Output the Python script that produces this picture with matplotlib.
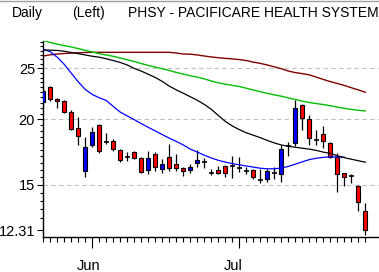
import matplotlib
matplotlib.use('Agg')
import matplotlib.pyplot as plt
import matplotlib.transforms as mtrans
from matplotlib.lines import Line2D
from matplotlib.ticker import FixedLocator, FixedFormatter, NullFormatter
import numpy as np

plt.rcParams['font.family'] = ['Liberation Sans', 'DejaVu Sans']

# ---- data ----
opens  = [21.60, 23.04, 21.90, 21.70, 20.68, 19.23, 15.98, 17.84, 19.48, 18.08,
          18.17, 17.45, 16.99, 17.31, 16.86, 16.02, 17.16, 16.07, 16.94, 16.45,
          16.14, 16.02, 16.54, 16.57, 15.83, 16.02, 16.30, 16.27, 16.16, 15.98,
          16.02, 15.33, 15.38, 15.83, 15.74, 17.79, 18.05, 21.29, 20.00, 18.27,
          18.73, 18.00, 16.98, 15.79, 15.62, 14.94, 13.39]
highs  = [23.14, 23.17, 21.95, 21.75, 20.87, 20.24, 18.49, 19.36, 19.57, 18.81,
          18.31, 17.54, 17.33, 17.37, 16.98, 17.41, 17.36, 16.79, 17.95, 17.18,
          16.21, 16.45, 17.49, 16.86, 16.07, 16.30, 16.40, 17.03, 16.98, 16.21,
          16.09, 16.06, 16.06, 16.20, 17.87, 18.13, 21.73, 21.39, 20.38, 19.08,
          19.42, 18.13, 17.22, 15.83, 15.73, 15.00, 13.87]
lows   = [20.92, 21.67, 21.01, 20.53, 19.08, 17.87, 15.50, 17.71, 17.28, 17.91,
          17.41, 16.60, 16.68, 16.77, 15.83, 15.72, 15.97, 15.83, 15.97, 15.97,
          15.63, 15.83, 16.25, 16.18, 15.67, 15.74, 15.56, 15.47, 15.85, 15.71,
          15.38, 15.13, 15.17, 15.43, 15.22, 17.05, 17.82, 19.08, 17.87, 17.83,
          17.60, 16.86, 14.57, 14.96, 15.13, 13.39, 12.06]
closes = [22.63, 21.81, 21.70, 20.68, 19.14, 18.59, 17.74, 18.90, 17.43, 18.08,
          17.54, 16.71, 16.99, 16.86, 15.90, 16.86, 16.21, 16.45, 16.14, 16.14,
          15.97, 16.21, 16.74, 16.57, 15.83, 15.83, 15.79, 16.27, 16.16, 15.98,
          15.52, 15.33, 15.95, 15.83, 17.54, 17.79, 20.98, 20.14, 18.40, 18.27,
          18.16, 16.98, 15.72, 15.52, 15.62, 13.94, 12.31]

ma_blue  = [27.17, 26.87, 26.23, 25.42, 24.46, 23.55, 22.78, 22.29, 21.97, 21.71,
            21.15, 20.63, 20.29, 19.96, 19.62, 19.30, 19.00, 18.70, 18.41, 18.15,
            17.87, 17.55, 17.32, 17.09, 16.88, 16.71, 16.58, 16.47, 16.38, 16.30,
            16.22, 16.14, 16.10, 16.10, 16.15, 16.27, 16.43, 16.60, 16.76, 16.86,
            16.93, 16.96, 16.96, 16.94]
ma_black = [27.08, 27.06, 27.03, 26.93, 26.79, 26.65, 26.50, 26.35, 26.24, 26.06,
            25.86, 25.64, 25.36, 24.98, 24.69, 24.35, 24.01, 23.60, 23.12, 22.74,
            22.41, 22.07, 21.73, 21.34, 20.89, 20.33, 19.81, 19.42, 19.11, 18.85,
            18.65, 18.45, 18.23, 18.03, 17.87, 17.77, 17.69, 17.62, 17.55, 17.45,
            17.32, 17.22, 17.05, 16.90, 16.79, 16.68, 16.57]
ma_green = [28.20, 27.99, 27.78, 27.61, 27.44, 27.25, 27.04, 26.85, 26.65, 26.50,
            26.34, 26.15, 25.95, 25.75, 25.52, 25.31, 25.12, 24.95, 24.76, 24.55,
            24.37, 24.19, 24.05, 23.86, 23.65, 23.45, 23.32, 23.20, 23.08, 22.91,
            22.73, 22.56, 22.40, 22.25, 22.12, 21.96, 21.81, 21.65, 21.52, 21.42,
            21.33, 21.22, 21.09, 20.98, 20.88, 20.80, 20.74]
ma_red   = [26.38, 26.52, 26.61, 26.67, 26.72, 26.75, 26.79, 26.81, 26.81, 26.81,
            26.81, 26.81, 26.81, 26.81, 26.81, 26.81, 26.81, 26.81, 26.81, 26.73,
            26.61, 26.59, 26.50, 26.38, 26.27, 26.18, 26.11, 26.05, 25.97, 25.86,
            25.68, 25.54, 25.36, 25.16, 24.95, 24.70, 24.53, 24.42, 24.29, 24.05,
            23.81, 23.58, 23.39, 23.19, 22.96, 22.74, 22.51]

month_labels = ['Jun', 'Jul']
month_index = [7, 28]
ytick_vals = [25, 20, 15, 12.31]
ytick_labels = ['25', '20', '15', '12.31']
grid_vals = [25, 20, 15]
title_parts = ['Daily', '(Left)', 'PHSY - PACIFICARE HEALTH SYSTEM']

# ---- figure ----
W, H = 379, 272
fig = plt.figure(figsize=(W / 100, H / 100), dpi=100)
ax_l, ax_r, ax_t, ax_b = 42.7, 379.0, 41.0, 236.7
ax = fig.add_axes([ax_l / W, 1 - ax_b / H, (ax_r - ax_l) / W, (ax_b - ax_t) / H])
ax.set_yscale('log')
ax.set_xlim(-0.09, 47.96)
ax.set_ylim(11.96, 28.17)

for g in grid_vals:
    ax.axhline(g, color='#c0c0c0', lw=0.8, ls=(0, (4, 3)), zorder=1)

n = len(opens)
x = np.arange(n)
o = np.array(opens); h = np.array(highs); l = np.array(lows); c = np.array(closes)

ax.vlines(x, l, h, color='black', lw=0.9, zorder=2)
doji = np.isclose(o, c)
body = ~doji
cols = np.where(c > o, '#0000ff', '#ff0000')
ax.bar(x[body], np.abs(c - o)[body], bottom=np.minimum(o, c)[body], width=0.6,
       color=cols[body], edgecolor='black', linewidth=0.8, zorder=3)
ax.hlines(o[doji], x[doji] - 0.38, x[doji] + 0.38, color='black', lw=1.2, zorder=3)

ax.plot(np.arange(len(ma_red)), ma_red, color='#800000', lw=1.0, zorder=4)
ax.plot(np.arange(len(ma_green)), ma_green, color='#00c000', lw=1.0, zorder=4)
ax.plot(np.arange(len(ma_blue)), ma_blue, color='#0000ff', lw=0.9, zorder=4)
ax.plot(np.arange(len(ma_black)), ma_black, color='black', lw=0.9, zorder=5)

for s in ['top', 'right']:
    ax.spines[s].set_visible(False)
ax.spines['left'].set_linewidth(1.0)
ax.spines['bottom'].set_linewidth(1.0)

# y ticks
ax.yaxis.set_major_locator(FixedLocator(ytick_vals))
ax.yaxis.set_major_formatter(FixedFormatter(ytick_labels))
ax.yaxis.set_minor_locator(FixedLocator(list(np.arange(13.0, 28.01, 0.5))))
ax.yaxis.set_minor_formatter(NullFormatter())
ax.tick_params(axis='y', which='major', direction='out', length=4, width=0.8,
               labelsize=10.5, pad=1.5)
ax.tick_params(axis='y', which='minor', direction='out', length=2.5, width=0.8)

# x ticks
ax.xaxis.set_major_locator(FixedLocator(month_index))
ax.xaxis.set_major_formatter(NullFormatter())
ax.xaxis.set_minor_locator(FixedLocator(list(range(n))))
ax.tick_params(axis='x', which='major', direction='out', length=8, width=0.8)
ax.tick_params(axis='x', which='minor', direction='out', length=3.6, width=0.8)

tr = mtrans.blended_transform_factory(ax.transData, fig.transFigure)
for lab, idx in zip(month_labels, month_index):
    ax.text(idx - 2.2, 1 - 270 / H, lab, transform=tr, ha='left', va='baseline',
            fontsize=10.5, clip_on=False)

# title texts
for txt, xp in zip(title_parts, [11.7, 71.7, 127.7]):
    fig.text(xp / W, 1 - 17 / H, txt, ha='left', va='baseline', fontsize=10)

fig.add_artist(Line2D([0, 1], [1 - 0.5 / H, 1 - 0.5 / H], color='#a0a0a0', lw=1.0,
                      transform=fig.transFigure))

fig.savefig('out.png', dpi=100, facecolor='white')
